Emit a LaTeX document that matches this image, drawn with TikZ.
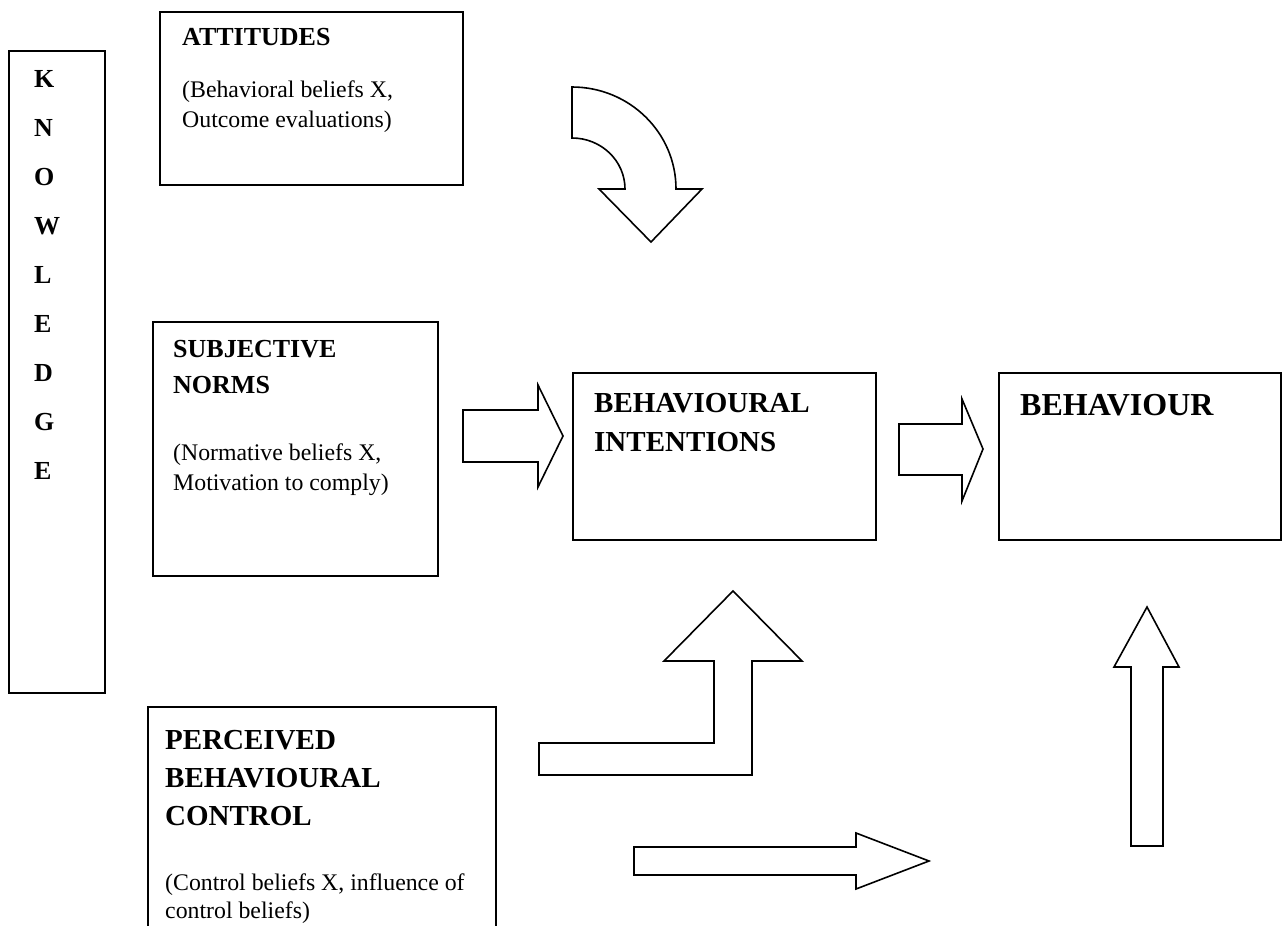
\documentclass[tikz,border=0pt]{standalone}
\usepackage{fontspec}
\setmainfont{Liberation Serif}
\begin{document}
\begin{tikzpicture}[x=1pt,y=-1pt,
  box/.style={draw, line width=1.8pt, inner sep=0pt, outer sep=0pt, anchor=north west, fill=white},
  lbl/.style={inner sep=0pt, anchor=base west},
  hd/.style={lbl, font=\fontsize{26}{30}\selectfont\bfseries},
  bighd/.style={lbl, font=\fontsize{29}{34}\selectfont\bfseries},
  body/.style={lbl, font=\fontsize{23.8}{28}\selectfont},
  barrow/.style={draw, line width=1.6pt, fill=white, line join=miter}]
\useasboundingbox (0,0) rectangle (1285,926);
\clip (0,0) rectangle (1285,926);
% boxes
\node[box, minimum width=96pt, minimum height=642pt] (know) at (9,51) {};
\node[box, minimum width=303pt, minimum height=173pt] (att) at (160,12) {};
\node[box, minimum width=285pt, minimum height=254pt] (sn) at (153,322) {};
\node[box, minimum width=303pt, minimum height=167pt] (bi) at (573,373) {};
\node[box, minimum width=282pt, minimum height=167pt] (beh) at (999,373) {};
\node[box, minimum width=348pt, minimum height=250pt] (pbc) at (148,707) {};
% knowledge letters
\foreach \l [count=\i from 0] in {K,N,O,W,L,E,D,G,E}
  \node[hd] (k\i) at (34,{87+49*\i}) {\l};
% attitudes
\node[hd] (att1) at (182,45) {ATTITUDES};
\node[body] (att2) at (182,97) {(Behavioral beliefs X,};
\node[body] (att3) at (182,127) {Outcome evaluations)};
% subjective norms
\node[hd] (sn1) at (173,357) {SUBJECTIVE};
\node[hd] (sn2) at (173,393) {NORMS};
\node[body] (sn3) at (173,460) {(Normative beliefs X,};
\node[body] (sn4) at (173,490) {Motivation to comply)};
% behavioural intentions
\node[bighd] (bi1) at (594,412) {BEHAVIOURAL};
\node[bighd] (bi2) at (594,451) {INTENTIONS};
% behaviour
\node[lbl, font=\fontsize{32}{36}\selectfont\bfseries] (beh1) at (1020,415) {BEHAVIOUR};
% perceived behavioural control
\node[bighd] (pbc1) at (165,749) {PERCEIVED};
\node[bighd] (pbc2) at (165,787) {BEHAVIOURAL};
\node[bighd] (pbc3) at (165,825) {CONTROL};
\node[body] (pbc4) at (165,890) {(Control beliefs X, influence of};
\node[body] (pbc5) at (165,918) {control beliefs)};
% curved arrow (attitudes -> intentions)
\draw[barrow] (572,87) arc[start angle=-90, end angle=0, x radius=104, y radius=102]
  -- (702,189) -- (651,242) -- (599,189) -- (625,189)
  arc[start angle=0, end angle=-90, x radius=53, y radius=51] -- cycle;
% subjective norms -> intentions
\draw[barrow] (463,410) -- (538,410) -- (538,385) -- (563,436) -- (538,487) -- (538,462) -- (463,462) -- cycle;
% intentions -> behaviour
\draw[barrow] (899,424) -- (962,424) -- (962,399) -- (983,449) -- (962,501) -- (962,475) -- (899,475) -- cycle;
% bent arrow (control -> intentions)
\draw[barrow] (539,775) -- (539,743) -- (714,743) -- (714,661) -- (664,661) -- (733,591) -- (802,661) -- (752,661) -- (752,775) -- cycle;
% control -> (behaviour)
\draw[barrow] (634,847) -- (856,847) -- (856,833) -- (929,861) -- (856,889) -- (856,875) -- (634,875) -- cycle;
% up arrow to behaviour
\draw[barrow] (1131,846) -- (1131,667) -- (1114,667) -- (1147,607) -- (1179,667) -- (1163,667) -- (1163,846) -- cycle;
\end{tikzpicture}
\end{document}
